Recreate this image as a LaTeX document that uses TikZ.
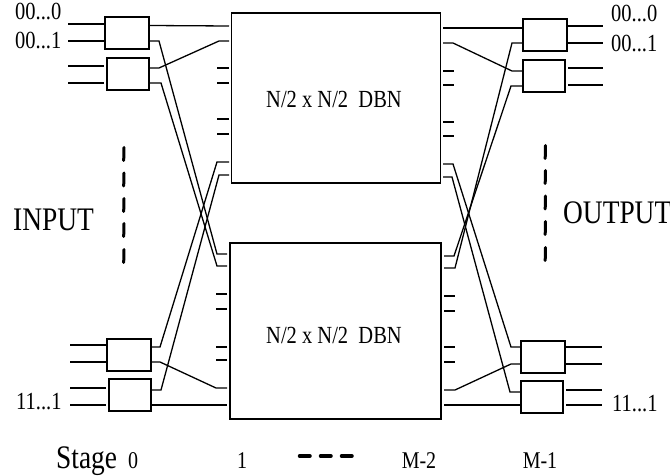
\documentclass[tikz,border=0pt]{standalone}
\usepackage{fontspec}
\setmainfont{Liberation Serif}
\usetikzlibrary{calc}
\tikzset{
  sw/.style={draw, line width=1.4pt, minimum width=#1, minimum height=32pt, inner sep=0pt},
  dbn/.style={draw, line width=1.2pt, inner sep=0pt},
  wire/.style={line width=1.3pt},
  slash/.style={line width=3pt, line cap=round},
  tall/.style={inner sep=0pt, yscale=1.2, transform shape},
  lab/.style={tall, font=\fontsize{20.5}{20.5}\selectfont, anchor=base west},
  biglab/.style={tall, font=\fontsize{27.4}{27.4}\selectfont, anchor=base west},
  stagelab/.style={tall, font=\fontsize{20}{20}\selectfont, anchor=base},
  dbnlab/.style={tall, font=\fontsize{20.5}{20.5}\selectfont, anchor=base}
}
\begin{document}
\begin{tikzpicture}[x=1pt,y=-1pt]
\useasboundingbox (0,0) rectangle (670,476);

% Switches of stage 0 and stage M-1
\node[sw=44pt] (inA) at (127,33) {};
\node[sw=42pt] (inB) at (128,74) {};
\node[sw=44pt] (inC) at (129,355) {};
\node[sw=42pt] (inD) at (130,395) {};
\node[sw=44pt] (outA) at (545,35) {};
\node[sw=42pt] (outB) at (544,76) {};
\node[sw=44pt] (outC) at (543,357) {};
\node[sw=42pt] (outD) at (542,397) {};

% The two smaller networks
\node[dbn, minimum width=209pt, minimum height=170pt] (upper) at (336,98) {};
\node[dbn, minimum width=211pt, minimum height=176pt] (lower) at (335.5,331) {};
\node[dbnlab] (upperlab) at (334,108) {N/2 x N/2\ \ DBN};
\node[dbnlab] (lowerlab) at (334,343) {N/2 x N/2\ \ DBN};

% Free ends of the lines
\foreach \name/\x/\y in {
  a1/150/25.5, a2/150/41, b1/150/68, b2/150/83, c1/151/347, c2/151/362, d1/151/390, d2/151/405,
  ua/229/26, ub/229/41, uc/229/68, ud/229/83, ue/229/119, uf/229/134, ug/229/162, uh/229/175,
  la/227/254, lb/227/266, lc/227/294, ld/227/309, le/227/347, lf/227/360, lg/227/388, lh/227/405,
  pa/443/28, pb/443/43, pc/443/71, pd/443/85, pe/443/122, pf/443/136, pg/443/164, ph/443/177,
  qa/444/256, qb/444/268, qc/444/296, qd/444/311, qe/444/347, qf/444/362, qg/444/390, qh/444/405,
  ra/522/28, rb/522/43, rc/522/71, rd/522/86, se/521/347, sf/521/364, sg/521/392, sh/521/405}
  \coordinate (\name) at (\x,\y);

% Lines on the outer sides
\foreach \y in {24,41,66,83}
  \draw[wire] (68,\y) -- (104,\y);
\foreach \y in {345,362,388,405}
  \draw[wire] (70,\y) -- (106,\y);
\foreach \y in {26,43,68,85}
  \draw[wire] (568,\y) -- (603,\y);
\foreach \y in {347,364,390,405}
  \draw[wire] (566,\y) -- (602,\y);

% Short stubs without a partner
\foreach \p in {uc,ud,ue,uf}
  \draw[wire] (\p) -- ++(-12,0);
\foreach \p in {lc,ld,le,lf}
  \draw[wire] (\p) -- ++(-11,0);
\foreach \p in {pc,pd,pe,pf,qc,qd,qe,qf}
  \draw[wire] (\p) -- ++(11,0);

% Stage 0 to the networks
\draw[wire] (a1) -- (ua);
\draw[wire] (a2) -- ++(9,0) -- ($(la)+(-10,0)$) -- (la);
\draw[wire] (b1) -- ++(9,0) -- ($(ub)+(-10,0)$) -- (ub);
\draw[wire] (b2) -- ++(11,0) -- ($(lb)+(-10,0)$) -- (lb);
\draw[wire] (c1) -- ++(9,0) -- ($(ug)+(-12,0)$) -- (ug);
\draw[wire] (c2) -- ++(9,0) -- ($(lg)+(-11,0)$) -- (lg);
\draw[wire] (d1) -- ++(10,0) -- ($(uh)+(-10,0)$) -- (uh);
\draw[wire] (d2) -- (lh);

% The networks to stage M-1
\draw[wire] (pa) -- (ra);
\draw[wire] (pb) -- ++(10,0) -- ($(rc)+(-10,0)$) -- (rc);
\draw[wire] (pg) -- ++(10,0) -- ($(se)+(-10,0)$) -- (se);
\draw[wire] (ph) -- ++(9,0) -- ($(sg)+(-11,0)$) -- (sg);
\draw[wire] (qa) -- ++(10,0) -- ($(rd)+(-11,0)$) -- (rd);
\draw[wire] (qb) -- ++(11,0) -- ($(rb)+(-10,0)$) -- (rb);
\draw[wire] (qg) -- ++(11,0) -- ($(sf)+(-10,0)$) -- (sf);
\draw[wire] (qh) -- (sh);

% Dashes
\foreach \y in {147.5,173,198.5,223.5,249.5}
  \draw[slash] (124,\y) -- ++(-0.3,13);
\foreach \y in {145.5,170.5,196,221.5,247.5}
  \draw[slash] (545.5,\y) -- ++(-0.3,13);
\foreach \x in {299.5,320.5,341.5}
  \draw[slash, line width=3.5pt] (\x,456) -- ++(10.5,0);

% Labels
\node[lab] (inzero) at (15,20) {00...0};
\node[lab] (inone) at (15,49) {00...1};
\node[lab] (inlast) at (16,409) {11...1};
\node[lab] (outzero) at (611,22) {00...0};
\node[lab] (outone) at (611,52) {00...1};
\node[lab] (outlast) at (612,411) {11...1};
\node[biglab] (input) at (13,230) {INPUT};
\node[biglab] (output) at (563,223) {OUTPUT};
\node[biglab] (stage) at (56,468) {Stage};
\node[stagelab] (szero) at (133,468) {0};
\node[stagelab] (sone) at (242,468) {1};
\node[stagelab] (stwo) at (419,468) {M-2};
\node[stagelab] (sthree) at (540,468) {M-1};
\end{tikzpicture}
\end{document}
